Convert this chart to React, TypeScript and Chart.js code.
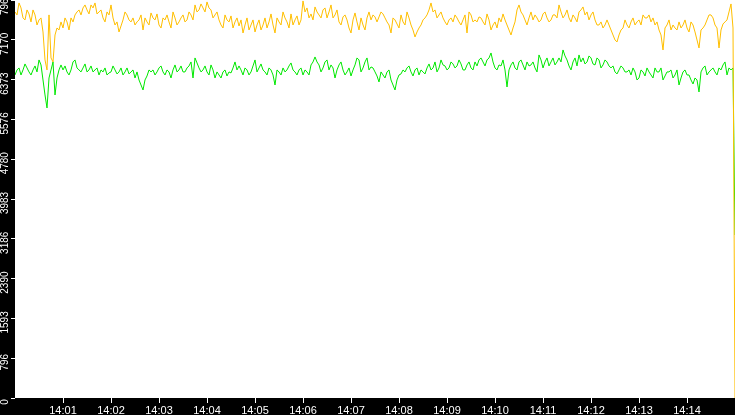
import { useEffect, useRef } from "react";
import { Chart, registerables } from "chart.js";

Chart.register(...registerables);

// -------------------- Datos --------------------
// una muestra cada 2.5 s, desde 14:00:00 hasta 14:15:00
const pasoSeg = 2.5;
const yMax = 7967;
const yTickLabels = ["0", "796", "1593", "2390", "3186", "3983", "4780", "5576", "6373", "7170", "7967"];
const xTickSeconds = [60, 120, 180, 240, 300, 360, 420, 480, 540, 600, 660, 720, 780, 840];
const xTickLabels = ["14:01", "14:02", "14:03", "14:04", "14:05", "14:06", "14:07", "14:08", "14:09", "14:10", "14:11", "14:12", "14:13", "14:14"];

const serieAmarilla = [
  7728, 7668, 7908, 7808, 7608, 7568, 7768, 7688, 7528, 7768, 7668, 7467, 7568, 7608, 7327, 6767, 6567, 7668, 6807, 6727,
  7267, 7407, 7367, 7528, 7407, 7608, 7528, 7367, 7608, 7528, 7668, 7728, 7768, 7668, 7808, 7868, 7768, 7688, 7868, 7808,
  7908, 7688, 7728, 7768, 7608, 7528, 7728, 7668, 7868, 7608, 7467, 7528, 7327, 7447, 7568, 7728, 7668, 7568, 7528, 7608,
  7467, 7528, 7568, 7668, 7367, 7608, 7528, 7467, 7708, 7608, 7568, 7688, 7467, 7407, 7608, 7568, 7668, 7528, 7407, 7728,
  7608, 7467, 7528, 7608, 7668, 7528, 7568, 7728, 7668, 7568, 7868, 7728, 7768, 7888, 7808, 7728, 7928, 7808, 7768, 7608,
  7668, 7728, 7568, 7467, 7407, 7668, 7568, 7528, 7648, 7407, 7528, 7608, 7447, 7568, 7307, 7467, 7608, 7367, 7467, 7568,
  7327, 7467, 7568, 7367, 7467, 7608, 7407, 7528, 7688, 7467, 7307, 7608, 7528, 7467, 7728, 7608, 7528, 7407, 7688, 7467,
  7568, 7648, 7467, 7568, 7948, 7728, 7808, 7608, 7688, 7568, 7828, 7728, 7668, 7608, 7768, 7808, 7608, 7728, 7868, 7608,
  7668, 7768, 7528, 7467, 7628, 7668, 7568, 7407, 7307, 7568, 7708, 7528, 7367, 7608, 7467, 7367, 7608, 7728, 7568, 7668,
  7628, 7528, 7628, 7728, 7688, 7608, 7528, 7467, 7307, 7608, 7568, 7487, 7407, 7668, 7528, 7467, 7728, 7608, 7467, 7367,
  7227, 7327, 7407, 7467, 7568, 7608, 7668, 7768, 7908, 7728, 7768, 7608, 7668, 7728, 7608, 7528, 7467, 7568, 7608, 7528,
  7668, 7608, 7528, 7467, 7568, 7668, 7307, 7728, 7668, 7528, 7568, 7528, 7628, 7608, 7528, 7467, 7688, 7568, 7367, 7467,
  7528, 7407, 7608, 7528, 7688, 7568, 7467, 7367, 7267, 7407, 7528, 7768, 7868, 7728, 7668, 7568, 7467, 7608, 7728, 7568,
  7668, 7608, 7528, 7568, 7688, 7728, 7608, 7528, 7568, 7668, 7668, 7608, 7868, 7728, 7608, 7668, 7768, 7608, 7528, 7668,
  7608, 7528, 7728, 7768, 7828, 7668, 7728, 7568, 7668, 7728, 7568, 7467, 7467, 7528, 7407, 7467, 7568, 7467, 7367, 7267,
  7167, 7127, 7267, 7367, 7407, 7568, 7467, 7407, 7528, 7608, 7467, 7528, 7568, 7467, 7668, 7608, 7608, 7668, 7528, 7608,
  7467, 7528, 7367, 7267, 6967, 7407, 7467, 7568, 7367, 7467, 7407, 7367, 7528, 7407, 7467, 7568, 7407, 7327, 7528, 7467,
  7327, 7167, 7007, 7367, 7407, 7467, 7568, 7668, 7668, 7608, 7467, 7407, 7007, 7367, 7487, 7528, 7568, 7728, 7888, 7407,
  0,
];

const serieVerde = [
  6466, 6567, 6607, 6466, 6567, 6687, 6607, 6527, 6466, 6567, 6647, 6527, 6767, 6667, 6366, 6066, 5806, 6406, 6567, 6727,
  6066, 6406, 6567, 6667, 6567, 6647, 6527, 6466, 6567, 6727, 6767, 6607, 6567, 6527, 6607, 6687, 6527, 6567, 6647, 6527,
  6567, 6607, 6466, 6567, 6527, 6607, 6466, 6507, 6527, 6647, 6567, 6487, 6527, 6607, 6466, 6527, 6607, 6487, 6527, 6567,
  6406, 6527, 6366, 6266, 6166, 6366, 6446, 6567, 6527, 6567, 6466, 6527, 6607, 6647, 6527, 6466, 6567, 6527, 6406, 6567,
  6667, 6527, 6567, 6647, 6527, 6527, 6607, 6647, 6727, 6406, 6807, 6707, 6607, 6527, 6567, 6647, 6527, 6466, 6667, 6567,
  6406, 6527, 6466, 6406, 6527, 6567, 6446, 6527, 6507, 6607, 6727, 6567, 6647, 6567, 6466, 6607, 6567, 6466, 6527, 6647,
  6767, 6527, 6607, 6687, 6567, 6527, 6466, 6607, 6567, 6466, 6266, 6567, 6527, 6466, 6607, 6527, 6567, 6647, 6707, 6567,
  6527, 6466, 6567, 6607, 6466, 6567, 6527, 6466, 6667, 6727, 6827, 6727, 6667, 6527, 6607, 6727, 6767, 6567, 6667, 6607,
  6406, 6567, 6667, 6727, 6567, 6466, 6527, 6607, 6446, 6567, 6667, 6807, 6767, 6527, 6607, 6727, 6807, 6567, 6627, 6607,
  6527, 6446, 6326, 6527, 6466, 6406, 6527, 6567, 6366, 6266, 6166, 6366, 6466, 6487, 6567, 6527, 6607, 6647, 6527, 6446,
  6567, 6607, 6466, 6567, 6527, 6487, 6607, 6687, 6567, 6607, 6727, 6527, 6607, 6767, 6667, 6647, 6567, 6607, 6727, 6687,
  6607, 6647, 6767, 6687, 6567, 6567, 6667, 6727, 6607, 6567, 6727, 6647, 6767, 6807, 6727, 6647, 6767, 6807, 6907, 6727,
  6607, 6567, 6667, 6647, 6767, 6567, 6226, 6567, 6667, 6727, 6607, 6567, 6727, 6767, 6667, 6567, 6727, 6647, 6667, 6727,
  6607, 6527, 6867, 6767, 6607, 6727, 6807, 6647, 6727, 6807, 6667, 6727, 6807, 6727, 6967, 6847, 6767, 6647, 6567, 6727,
  6807, 6647, 6867, 6727, 6807, 6687, 6727, 6847, 6807, 6687, 6667, 6807, 6767, 6607, 6667, 6767, 6727, 6647, 6607, 6647,
  6527, 6487, 6567, 6647, 6607, 6527, 6527, 6567, 6466, 6607, 6527, 6366, 6406, 6567, 6527, 6446, 6607, 6527, 6466, 6406,
  6607, 6527, 6527, 6607, 6366, 6446, 6527, 6527, 6567, 6406, 6466, 6567, 6266, 6406, 6527, 6567, 6466, 6466, 6366, 6286,
  6406, 6366, 6126, 6527, 6607, 6647, 6466, 6527, 6567, 6607, 6527, 6466, 6607, 6567, 6667, 6727, 6466, 6607, 6567, 6607,
  3263,
];

const fuente = '"Liberation Sans", Arial, sans-serif';

// fondo negro y area de trazado blanca
const fondo = {
  id: "fondo",
  beforeDraw(chart: Chart) {
    const { ctx, chartArea: a } = chart;
    ctx.save();
    ctx.fillStyle = "#000";
    ctx.fillRect(0, 0, chart.width, chart.height);
    ctx.fillStyle = "#fff";
    ctx.fillRect(a.left, a.top, a.right - a.left, a.bottom - a.top);
    ctx.restore();
  },
};

export default function App() {
  const canvasRef = useRef<HTMLCanvasElement | null>(null);

  useEffect(() => {
    if (!canvasRef.current) return;
    const chart = new Chart(canvasRef.current, {
      type: "line",
      data: {
        datasets: [
          {
            label: "A",
            data: serieAmarilla.map((v, i) => ({ x: i * pasoSeg, y: v })),
            borderColor: "#ffbf00",
            borderWidth: 1,
            pointRadius: 0,
            tension: 0,
          },
          {
            label: "B",
            data: serieVerde.map((v, i) => ({ x: i * pasoSeg, y: v })),
            borderColor: "#00e800",
            borderWidth: 1,
            pointRadius: 0,
            tension: 0,
          },
        ],
      },
      options: {
        responsive: false,
        animation: false,
        events: [],
        layout: { padding: 0 },
        plugins: { legend: { display: false }, tooltip: { enabled: false } },
        scales: {
          x: {
            type: "linear",
            min: 0,
            max: 900,
            border: { display: false },
            grid: { drawOnChartArea: false, drawTicks: true, tickLength: 5, color: "#fff" },
            ticks: {
              color: "#fff",
              font: { family: fuente, size: 11 },
              padding: 1,
              minRotation: 0,
              maxRotation: 0,
              autoSkip: false,
              callback: (_v: any, i: number) => xTickLabels[i],
            },
            afterBuildTicks: (s: any) => {
              s.ticks = xTickSeconds.map((v) => ({ value: v }));
            },
            afterFit: (s: any) => {
              s.height = 17;
              s.paddingLeft = 0;
              s.paddingRight = 0;
            },
          },
          y: {
            type: "linear",
            min: 0,
            max: yMax,
            border: { display: false },
            grid: { drawOnChartArea: false, drawTicks: true, tickLength: 4, color: "#fff" },
            ticks: {
              color: "#fff",
              font: { family: fuente, size: 10 },
              minRotation: 90,
              maxRotation: 90,
              crossAlign: "center",
              padding: -5,
              labelOffset: 4,
              autoSkip: false,
              callback: (_v: any, i: number) => yTickLabels[i],
            },
            afterBuildTicks: (s: any) => {
              s.ticks = yTickLabels.map((_l, i) => ({ value: (i * yMax) / 10 }));
            },
            afterFit: (s: any) => {
              s.width = 15;
              s.paddingTop = 0;
              s.paddingBottom = 0;
            },
          },
        },
      },
      plugins: [fondo],
    });
    return () => {
      chart.destroy();
    };
  }, []);

  return (
    <div style={{ position: "fixed", left: 0, top: 0, width: 735, height: 415, background: "#000" }}>
      <canvas ref={canvasRef} width={735} height={415} style={{ display: "block" }} />
    </div>
  );
}
